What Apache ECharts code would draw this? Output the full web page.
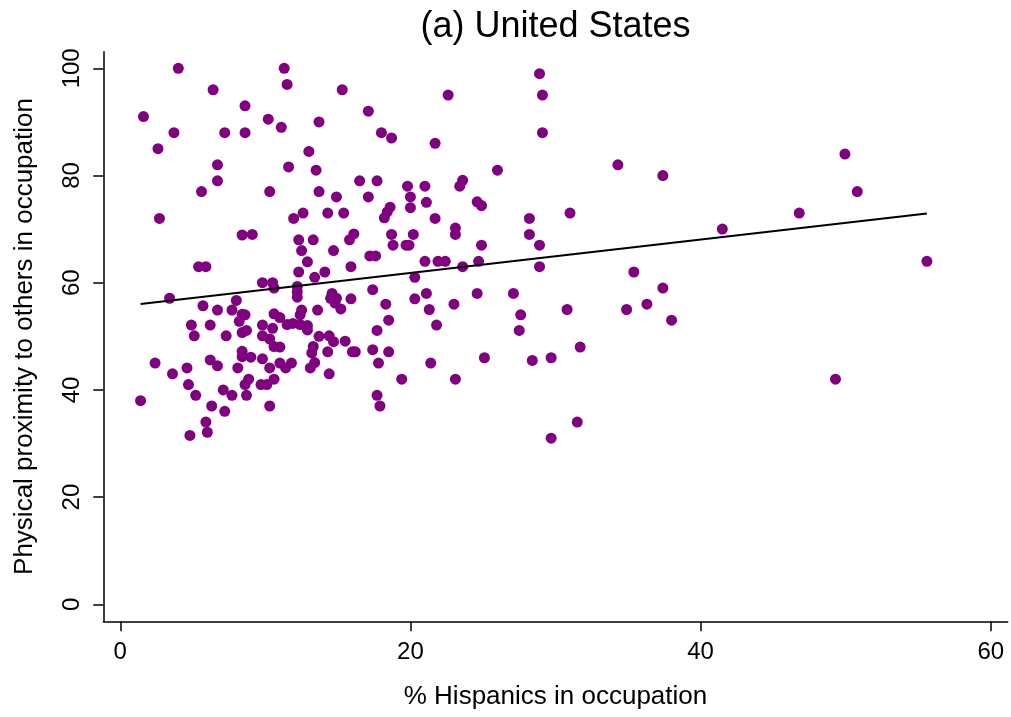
<!DOCTYPE html>
<html>
<head>
<meta charset="utf-8">
<script src="https://cdn.jsdelivr.net/npm/echarts@6/dist/echarts.min.js"></script>
<style>
  html, body { margin: 0; padding: 0; background: #fff; }
  #main { width: 1011px; height: 717px; }
</style>
</head>
<body>
<div id="main"></div>
<script>
// % Hispanics in occupation (x) and physical proximity score (y), one entry per occupation
var hispanicPct = [
  4.0, 11.3, 11.5, 6.4, 8.6, 1.6, 10.2, 11.1, 3.7, 7.2, 8.6, 13.7, 2.6, 13.0, 6.7, 11.6, 13.5, 6.7, 5.6, 10.3,
  13.7, 2.7, 12.6, 11.95, 8.4, 9.1, 12.3, 13.3, 12.5, 12.9, 12.3, 13.4, 5.4, 5.9, 9.8, 10.5, 10.6, 12.2, 12.2, 12.2,
  3.4, 8.0, 5.7, 6.7, 7.7, 8.4, 8.6, 8.2, 12.5, 12.4, 13.6, 10.6, 11.0, 4.9, 6.2, 9.8, 10.5, 11.5, 11.9, 12.4,
  12.9, 12.9, 13.7, 8.7, 8.4, 5.1, 7.3, 9.8, 10.3, 10.6, 11.0, 13.3, 13.2, 8.4, 8.4, 9.0, 9.8, 6.2, 6.7, 2.4,
  4.6, 8.1, 10.3, 11.0, 11.8, 11.4, 13.1, 13.4, 3.6, 8.85, 8.6, 9.7, 10.1, 10.6, 4.7, 7.1, 5.2, 7.7, 8.7, 1.4,
  6.3, 10.3, 7.2, 5.9, 4.8, 6.0,
  15.3, 22.6, 17.1, 18.0, 18.7, 21.7, 26.0, 16.5, 17.7, 19.8, 21.0, 23.6, 23.4, 14.9, 17.1, 20.0, 21.1, 24.6, 24.9, 18.6,
  18.4, 18.2, 20.0, 14.3, 15.4, 21.7, 23.1, 23.1, 16.1, 15.8, 18.7, 20.2, 18.8, 19.7, 19.9, 24.9, 14.7,
  17.2, 17.6, 21.0, 21.9, 22.4, 24.7, 23.6, 15.9, 14.1, 20.3, 17.4, 14.6, 14.5, 14.9, 14.8, 15.2, 15.9, 21.1, 20.3, 24.6,
  27.1, 18.3, 23.0, 21.3, 27.6, 18.5, 21.8, 17.7, 27.5, 14.4, 14.7, 15.5, 17.4, 18.5, 16.0, 16.2, 14.3, 17.8, 21.4, 25.1,
  14.4, 19.4, 23.1, 17.7, 17.9,
  28.9, 29.1, 29.1, 34.3, 37.4, 31.0, 28.2, 28.2, 28.9, 28.9, 35.4, 37.4, 30.8, 34.9, 36.3, 38.0, 31.7, 28.4, 29.7, 31.5,
  29.7, 49.95, 50.8, 46.8, 41.5, 55.6, 49.3
];
var proximity = [
  100, 100, 97, 96, 93, 91, 90.5, 89, 88, 88, 88, 90, 85, 84.5, 82, 81.6, 81, 79, 77, 77,
  77, 72, 73, 72, 68.9, 69, 68, 68, 66, 63.9, 62, 61, 63, 63, 60, 60, 59, 59.3, 58.3, 57.3,
  57.1, 56.7, 55.7, 54.9, 54.9, 54.1, 54.0, 52.8, 54.9, 54.0, 54.9, 54.2, 53.5, 52.1, 52.1, 52.1, 51.5, 52.2, 52.4, 52.2,
  52.0, 51.2, 50, 51.1, 50.7, 50.1, 50.1, 50.1, 49.5, 48.1, 48, 48.1, 46.9, 47.2, 46.2, 46.1, 45.8, 45.6, 44.5, 45,
  44.1, 44.1, 44.1, 45, 45, 44.1, 44.1, 45.1, 43, 42, 41, 41, 41, 42, 41, 40, 39, 39, 39, 38,
  37, 37, 36, 34, 31.5, 32.1,
  96, 95, 92, 88, 87, 86, 81, 79, 79, 78, 78, 79.1, 78, 76, 76, 76, 75, 75.1, 74.4, 74.1,
  73.2, 72.1, 74, 73, 73, 72, 70.2, 69, 69.1, 68, 69, 69, 67, 67, 67, 67, 66,
  65, 65, 64, 64, 64, 64, 63, 63, 62, 61, 58.7, 58, 57.1, 57.1, 56.2, 55.1, 57, 58, 57, 58,
  58, 56, 56, 55, 54, 53, 52.1, 51.1, 51.1, 50.1, 49, 49.1, 47.5, 47.1, 47.1, 47.1, 47.1, 45, 45, 46,
  43, 42, 42, 39, 37,
  99, 95, 88, 82, 80, 73, 72, 69, 67, 63, 62, 59, 55, 55, 56, 53, 48, 45.5, 46, 34,
  31, 84, 77, 73, 70, 64, 42
];

// linear fit line, end points
var fitX = [1.4, 55.6];
var fitY = [56.05, 72.9];

var xTicks = [0, 20, 40, 60];
var yTicks = [0, 20, 40, 60, 80, 100];

var points = hispanicPct.map(function (x, i) { return [x, proximity[i]]; });
var fitLine = fitX.map(function (x, i) { return [x, fitY[i]]; });

var font = 'Liberation Sans, Arial, Helvetica, sans-serif';

var chart = echarts.init(document.getElementById('main'), null, { renderer: 'canvas' });
var option = {
  animation: false,
  backgroundColor: '#fff',
  title: {
    text: '(a) United States',
    left: 555.5,
    top: 9,
    padding: 0,
    textAlign: 'center',
    textStyle: { fontFamily: font, fontSize: 36, fontWeight: 'normal', color: '#000', lineHeight: 36 }
  },
  grid: { left: 103.3, right: 3.3, top: 51.7, bottom: 95.7, containLabel: false },
  xAxis: {
    type: 'value',
    min: -1.17,
    max: 61.17,
    name: '% Hispanics in occupation',
    nameLocation: 'middle',
    nameGap: 63,
    nameTextStyle: { fontFamily: font, fontSize: 26, color: '#000' },
    axisLine: { show: true, onZero: false, lineStyle: { color: '#000', width: 1.5 } },
    axisTick: { show: true, length: 10, customValues: xTicks, lineStyle: { color: '#000', width: 1.5 } },
    axisLabel: { customValues: xTicks, margin: 19, fontFamily: font, fontSize: 24, color: '#000' },
    splitLine: { show: false }
  },
  yAxis: {
    type: 'value',
    min: -3.17,
    max: 103.1,
    name: 'Physical proximity to others in occupation',
    nameLocation: 'middle',
    nameGap: 65,
    nameTextStyle: { fontFamily: font, fontSize: 26, color: '#000' },
    axisLine: { show: true, onZero: false, lineStyle: { color: '#000', width: 1.5 } },
    axisTick: { show: true, length: 10, customValues: yTicks, lineStyle: { color: '#000', width: 1.5 } },
    axisLabel: { customValues: yTicks, rotate: 90, margin: 19, fontFamily: font, fontSize: 24, color: '#000' },
    splitLine: { show: false }
  },
  series: [
    {
      type: 'scatter',
      data: points,
      symbol: 'circle',
      symbolSize: 11,
      itemStyle: { color: '#800080', opacity: 1 }
    },
    {
      type: 'line',
      data: fitLine,
      showSymbol: false,
      symbol: 'none',
      silent: true,
      lineStyle: { color: '#000', width: 2 }
    }
  ]
};
chart.setOption(option);
window.addEventListener('resize', chart.resize);
</script>
</body>
</html>
